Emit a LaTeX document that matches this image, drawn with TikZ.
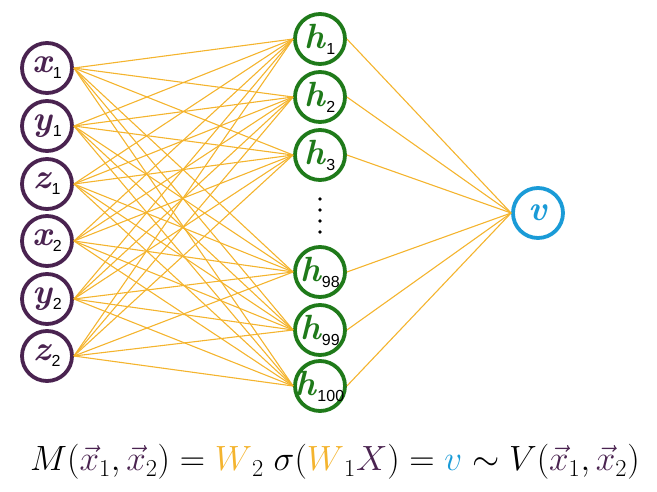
\documentclass[tikz,border=0pt]{standalone}
\usepackage{amsmath}
\usepackage{fontspec}
\newfontfamily\subfont{Liberation Sans}
\definecolor{inpurple}{HTML}{4A2350}
\definecolor{hidgreen}{HTML}{1F7A1A}
\definecolor{outblue}{HTML}{1A9BD7}
\definecolor{wyellow}{HTML}{F4B42E}
\newcommand{\nlabel}[2]{\makebox[0pt]{{\fontsize{35}{35}\selectfont\bfseries\itshape #1}\kern1pt\raisebox{-6pt}{\color{black}\subfont\fontsize{16}{16}\selectfont #2}}}

\begin{document}
\begin{tikzpicture}[x=1pt,y=-1pt,
  neuron/.style={circle,draw,line width=3.8pt,minimum size=50pt,inner sep=0pt,fill=white},
  inneuron/.style={neuron,draw=inpurple,text=inpurple},
  hidneuron/.style={neuron,draw=hidgreen,text=hidgreen},
  outneuron/.style={neuron,draw=outblue,text=outblue},
  weight/.style={draw=wyellow,line width=1.1pt}]
\useasboundingbox (0,0) rectangle (657,491);
		% inputs
		\node[inneuron](x1) at (47,68) {\nlabel{x}{1}};
		\node[inneuron](y1) at (47,126) {\nlabel{y}{1}};
		\node[inneuron](z1) at (47,184) {\nlabel{z}{1}};
		\node[inneuron](x2) at (47,241) {\nlabel{x}{2}};
		\node[inneuron](y2) at (47,299) {\nlabel{y}{2}};
		\node[inneuron](z2) at (47,356) {\nlabel{z}{2}};
		% hidden layer
		\node[hidneuron](h1) at (320,39) {\nlabel{h}{1}};
		\node[hidneuron](h2) at (320,97) {\nlabel{h}{2}};
		\node[hidneuron](h3) at (320,155) {\nlabel{h}{3}};
		\node[hidneuron](h98) at (320,272) {\nlabel{h}{98}};
		\node[hidneuron](h99) at (320,330) {\nlabel{h}{99}};
		\node[hidneuron](h100) at (320,386) {\nlabel{h}{100}};
		\foreach \d in {199,210,221,232}
		\fill (320,\d) circle (1.9);
		% output
		\node[outneuron](v) at (538,213) {{\fontsize{35}{35}\selectfont\bfseries\itshape v}};
		% weights
		\foreach \i in {x1,y1,z1,x2,y2,z2}
		\foreach \h in {h1,h2,h3,h98,h99,h100}
		\draw[weight] (\i.east) -- (\h.west);
		\foreach \h in {h1,h2,h3,h98,h99,h100}
		\draw[weight] (\h.east) -- (v.west);
		% formula
		\node[](eq) at (335,462) {\scalebox{1.41}{\fontsize{23}{26}\selectfont
		$M(\textcolor{inpurple}{\vec{x}}_1,\textcolor{inpurple}{\vec{x}}_2) = \textcolor{wyellow}{W}_2\ \sigma(\textcolor{wyellow}{W}_1\textcolor{inpurple}{X}) = \textcolor{outblue}{v} \sim V(\textcolor{inpurple}{\vec{x}}_1,\textcolor{inpurple}{\vec{x}}_2)$}};
\end{tikzpicture}
\end{document}
